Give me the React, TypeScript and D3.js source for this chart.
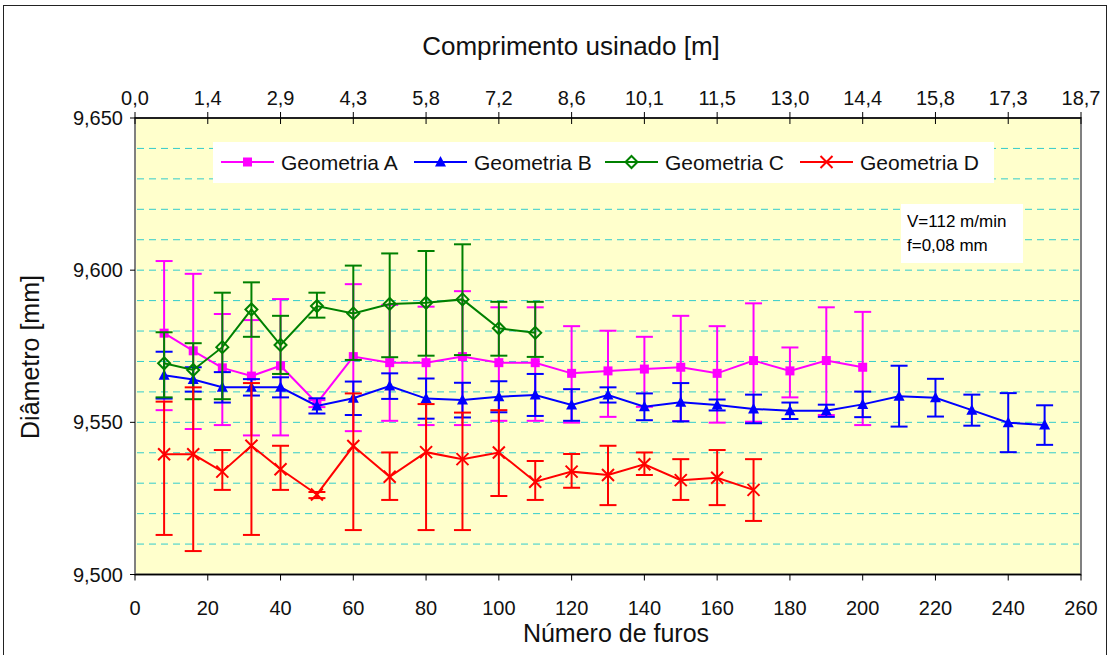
import React from "react";
import * as d3 from "d3";

// ---- data ----
const bottomTicks = [0, 20, 40, 60, 80, 100, 120, 140, 160, 180, 200, 220, 240, 260];
const topTickLabels = ["0,0", "1,4", "2,9", "4,3", "5,8", "7,2", "8,6", "10,1", "11,5", "13,0", "14,4", "15,8", "17,3", "18,7"];
const yTicks = [9.5, 9.55, 9.6, 9.65];
const yGrid = [9.51, 9.52, 9.53, 9.54, 9.55, 9.56, 9.57, 9.58, 9.59, 9.6, 9.61, 9.62, 9.63, 9.64];

const furosA = [8, 16, 24, 32, 40, 50, 60, 70, 80, 90, 100, 110, 120, 130, 140, 150, 160, 170, 180, 190, 200];
const meanA = [9.5793, 9.5735, 9.5679, 9.5652, 9.5686, 9.5563, 9.5716, 9.5696, 9.5696, 9.5716, 9.5696, 9.5696, 9.5661, 9.5669, 9.5675, 9.5681, 9.5661, 9.5703, 9.5669, 9.5703, 9.5681];
const highA = [9.603, 9.5988, 9.5856, 9.5836, 9.5905, 9.5573, 9.5954, 9.5886, 9.588, 9.5931, 9.5878, 9.5878, 9.5816, 9.5801, 9.5781, 9.585, 9.5816, 9.5891, 9.5746, 9.5878, 9.5863];
const lowA = [9.554, 9.5478, 9.5491, 9.5457, 9.5457, 9.555, 9.5471, 9.5505, 9.5491, 9.5491, 9.5505, 9.5505, 9.5499, 9.5518, 9.5551, 9.5504, 9.5499, 9.5502, 9.5582, 9.5524, 9.5491];

const furosB = [8, 16, 24, 32, 40, 50, 60, 70, 80, 90, 100, 110, 120, 130, 140, 150, 160, 170, 180, 190, 200, 210, 220, 230, 240, 250];
const meanB = [9.5655, 9.5641, 9.5615, 9.5615, 9.5615, 9.5554, 9.5579, 9.5619, 9.5578, 9.5573, 9.5584, 9.559, 9.5557, 9.559, 9.5551, 9.5566, 9.5557, 9.5544, 9.5538, 9.5538, 9.5559, 9.5586, 9.5581, 9.554, 9.5499, 9.5491];
const highB = [9.5732, 9.5681, 9.5665, 9.5642, 9.5648, 9.5579, 9.5634, 9.5661, 9.5644, 9.563, 9.5635, 9.5659, 9.5609, 9.5615, 9.5595, 9.5629, 9.5575, 9.5591, 9.5565, 9.5558, 9.5601, 9.5686, 9.5643, 9.5591, 9.5596, 9.5556];
const lowB = [9.5578, 9.5601, 9.5565, 9.5588, 9.5582, 9.5529, 9.5524, 9.5577, 9.5512, 9.5516, 9.5533, 9.5521, 9.5505, 9.5565, 9.5507, 9.5503, 9.5539, 9.5497, 9.5511, 9.5518, 9.5517, 9.5486, 9.5519, 9.5489, 9.5402, 9.5426];

const furosC = [8, 16, 24, 32, 40, 50, 60, 70, 80, 90, 100, 110];
const meanC = [9.5694, 9.5672, 9.5747, 9.5871, 9.5754, 9.5882, 9.5858, 9.5889, 9.5893, 9.5904, 9.5809, 9.5794];
const highC = [9.5796, 9.576, 9.5926, 9.596, 9.585, 9.5926, 9.6015, 9.6055, 9.6063, 9.6085, 9.5896, 9.5896];
const lowC = [9.5582, 9.5576, 9.5576, 9.5781, 9.5659, 9.5844, 9.5705, 9.5714, 9.5719, 9.5721, 9.5719, 9.5715];

const furosD = [8, 16, 24, 32, 40, 50, 60, 70, 80, 90, 100, 110, 120, 130, 140, 150, 160, 170];
const meanD = [9.5395, 9.5395, 9.5338, 9.5423, 9.5346, 9.5263, 9.5422, 9.5321, 9.5402, 9.5379, 9.5401, 9.5305, 9.5338, 9.5327, 9.5362, 9.531, 9.5318, 9.5278];
const highD = [9.5568, 9.5615, 9.5409, 9.5629, 9.5423, 9.5271, 9.5595, 9.5401, 9.556, 9.5532, 9.554, 9.5373, 9.5396, 9.5423, 9.5401, 9.5379, 9.5409, 9.5379];
const lowD = [9.513, 9.5077, 9.5278, 9.513, 9.5278, 9.5251, 9.5146, 9.5245, 9.5146, 9.5146, 9.5258, 9.5245, 9.5285, 9.5228, 9.5327, 9.5245, 9.5228, 9.5176];

const seriesNames = ["Geometria A", "Geometria B", "Geometria C", "Geometria D"];
const seriesColors = ["#ff00ff", "#0000ff", "#008000", "#ff0000"];
const seriesMarkers = ["square", "triangle", "diamond", "x"];

// ---- layout ----
const W = 1111;
const H = 655;
const left = 135;
const right = 1081;
const top = 118;
const bottom = 574.5;
const FONT = "'Liberation Sans', Arial, sans-serif";

const x = d3.scaleLinear().domain([0, 260]).range([left, right]);
const y = d3.scaleLinear().domain([9.5, 9.65]).range([bottom, top]);
const locale = d3.formatLocale({ decimal: ",", thousands: ".", grouping: [3], currency: ["", ""] });
const fmtY = locale.format(".3f");

function Marker({ type, cx, cy, color }: { type: string; cx: number; cy: number; color: string }) {
  if (type === "square") return <rect x={cx - 4.5} y={cy - 4.5} width={9} height={9} fill={color} />;
  if (type === "triangle") {
    const p = d3.path();
    p.moveTo(cx, cy - 6);
    p.lineTo(cx + 5.5, cy + 4.5);
    p.lineTo(cx - 5.5, cy + 4.5);
    p.closePath();
    return <path d={p.toString()} fill={color} />;
  }
  if (type === "diamond") {
    const p = d3.path();
    p.moveTo(cx, cy - 6);
    p.lineTo(cx + 6, cy);
    p.lineTo(cx, cy + 6);
    p.lineTo(cx - 6, cy);
    p.closePath();
    return <path d={p.toString()} fill="none" stroke={color} strokeWidth={2} />;
  }
  const p = d3.path();
  p.moveTo(cx - 6, cy - 6);
  p.lineTo(cx + 6, cy + 6);
  p.moveTo(cx + 6, cy - 6);
  p.lineTo(cx - 6, cy + 6);
  return <path d={p.toString()} fill="none" stroke={color} strokeWidth={2} />;
}

function Series({ furos, mean, high, low, color, marker }: any) {
  const line = d3
    .line<number>()
    .x((_, i) => x(furos[i]))
    .y((d) => y(d));
  return (
    <g>
      {furos.map((f: number, i: number) => (
        <g key={"e" + i} stroke={color} strokeWidth={2}>
          <line x1={x(f)} x2={x(f)} y1={y(high[i])} y2={y(low[i])} />
          <line x1={x(f) - 8.5} x2={x(f) + 8.5} y1={y(high[i])} y2={y(high[i])} />
          <line x1={x(f) - 8.5} x2={x(f) + 8.5} y1={y(low[i])} y2={y(low[i])} />
        </g>
      ))}
      <path d={line(mean) || ""} fill="none" stroke={color} strokeWidth={2} />
      {furos.map((f: number, i: number) => (
        <Marker key={"m" + i} type={marker} cx={x(f)} cy={y(mean[i])} color={color} />
      ))}
    </g>
  );
}

export default function App() {
  const allSeries = [
    { furos: furosA, mean: meanA, high: highA, low: lowA },
    { furos: furosB, mean: meanB, high: highB, low: lowB },
    { furos: furosC, mean: meanC, high: highC, low: lowC },
    { furos: furosD, mean: meanD, high: highD, low: lowD },
  ];
  const legendItems = [
    { lx: 221, tx: 281 },
    { lx: 414, tx: 474 },
    { lx: 605, tx: 665 },
    { lx: 800, tx: 860 },
  ];
  return (
    <svg
      width={W}
      height={H}
      style={{ position: "absolute", left: 0, top: 0, background: "#ffffff" }}
      fontFamily={FONT}
    >
      <rect x={3.5} y={5.5} width={1103} height={660} fill="#ffffff" stroke="#222" strokeWidth={1} />
      {/* plot area */}
      <rect x={left} y={top} width={right - left} height={bottom - top} fill="#ffffcc" stroke="#808080" strokeWidth={2} />
      {yGrid.map((v) => (
        <line
          key={"g" + v}
          x1={left + 2}
          x2={right - 2}
          y1={y(v)}
          y2={y(v)}
          stroke="#33cccc"
          strokeWidth={1}
          strokeDasharray="7,5"
        />
      ))}
      {/* axes lines */}
      <line x1={left} x2={right} y1={top} y2={top} stroke="#000" strokeWidth={1.5} />
      <line x1={left} x2={right} y1={bottom} y2={bottom} stroke="#000" strokeWidth={1.5} />
      {bottomTicks.map((t, i) => (
        <g key={"bt" + t}>
          <line x1={x(t)} x2={x(t)} y1={bottom} y2={bottom + 6} stroke="#000" strokeWidth={1} />
          <text x={x(t)} y={615} fontSize={20} textAnchor="middle" fill="#111">
            {t}
          </text>
          <line x1={x(t)} x2={x(t)} y1={top - 6} y2={top + 6} stroke="#000" strokeWidth={1} />
          <text x={x(t)} y={105} fontSize={20} textAnchor="middle" fill="#111">
            {topTickLabels[i]}
          </text>
        </g>
      ))}
      {yTicks.map((t) => (
        <g key={"yt" + t}>
          <line x1={left - 5} x2={left} y1={y(t)} y2={y(t)} stroke="#000" strokeWidth={1} />
          <text x={123} y={y(t) + 7} fontSize={20} textAnchor="end" fill="#111">
            {fmtY(t)}
          </text>
        </g>
      ))}
      <text x={571} y={55} fontSize={26} textAnchor="middle" fill="#111">
        Comprimento usinado [m]
      </text>
      <text x={(left + right) / 2 + 8} y={642} fontSize={25} textAnchor="middle" fill="#111">
        Número de furos
      </text>
      <text
        transform={`translate(39, 357) rotate(-90)`}
        fontSize={25}
        textAnchor="middle"
        fill="#111"
      >
        Diâmetro [mm]
      </text>

      {/* series */}
      {allSeries.map((s, i) => (
        <Series key={i} {...s} color={seriesColors[i]} marker={seriesMarkers[i]} />
      ))}

      {/* legend */}
      <rect x={213} y={142} width={781} height={41} fill="#ffffff" />
      {legendItems.map((it, i) => (
        <g key={"lg" + i}>
          <line x1={it.lx} x2={it.lx + 53} y1={162} y2={162} stroke={seriesColors[i]} strokeWidth={2} />
          <Marker type={seriesMarkers[i]} cx={it.lx + 26.5} cy={162} color={seriesColors[i]} />
          <text x={it.tx} y={169.5} fontSize={21} fill="#111">
            {seriesNames[i]}
          </text>
        </g>
      ))}

      {/* annotation */}
      <rect x={901} y={204} width={122} height={59} fill="#ffffff" />
      <text x={907} y={227} fontSize={17} fill="#000">
        V=112 m/min
      </text>
      <text x={907} y={251} fontSize={17} fill="#000">
        f=0,08 mm
      </text>
    </svg>
  );
}
